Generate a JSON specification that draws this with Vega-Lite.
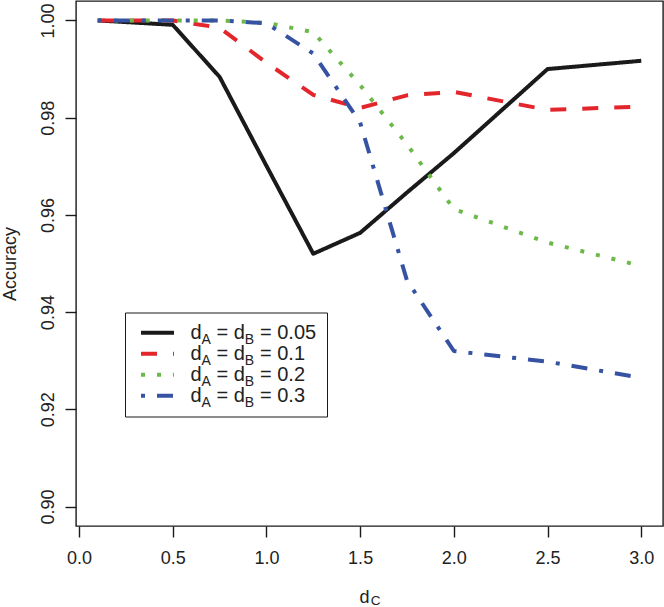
{
  "$schema": "https://vega.github.io/schema/vega-lite/v6.json",
  "width": 587,
  "height": 525,
  "autosize": {"type": "none"},
  "padding": {"left": 76, "top": 1, "right": 1, "bottom": 81},
  "background": "white",
  "config": {
    "font": "Liberation Sans",
    "view": {"stroke": "#1a1a1a", "strokeWidth": 1.4}
  },
  "data": {
    "values": [
      {"series": "dA = dB = 0.05", "dC": 0.1, "accuracy": 1.0},
      {"series": "dA = dB = 0.05", "dC": 0.5, "accuracy": 0.9991},
      {"series": "dA = dB = 0.05", "dC": 0.75, "accuracy": 0.9884},
      {"series": "dA = dB = 0.05", "dC": 1.0, "accuracy": 0.9701},
      {"series": "dA = dB = 0.05", "dC": 1.25, "accuracy": 0.952},
      {"series": "dA = dB = 0.05", "dC": 1.5, "accuracy": 0.9563},
      {"series": "dA = dB = 0.05", "dC": 1.75, "accuracy": 0.9646},
      {"series": "dA = dB = 0.05", "dC": 2.0, "accuracy": 0.9727},
      {"series": "dA = dB = 0.05", "dC": 2.5, "accuracy": 0.99},
      {"series": "dA = dB = 0.05", "dC": 3.0, "accuracy": 0.9917},
      {"series": "dA = dB = 0.1", "dC": 0.1, "accuracy": 1.0},
      {"series": "dA = dB = 0.1", "dC": 0.5, "accuracy": 1.0},
      {"series": "dA = dB = 0.1", "dC": 0.75, "accuracy": 0.9985},
      {"series": "dA = dB = 0.1", "dC": 1.0, "accuracy": 0.9913},
      {"series": "dA = dB = 0.1", "dC": 1.25, "accuracy": 0.9847},
      {"series": "dA = dB = 0.1", "dC": 1.5, "accuracy": 0.982},
      {"series": "dA = dB = 0.1", "dC": 1.75, "accuracy": 0.9846},
      {"series": "dA = dB = 0.1", "dC": 2.0, "accuracy": 0.9853},
      {"series": "dA = dB = 0.1", "dC": 2.5, "accuracy": 0.9816},
      {"series": "dA = dB = 0.1", "dC": 3.0, "accuracy": 0.9823},
      {"series": "dA = dB = 0.2", "dC": 0.1, "accuracy": 1.0},
      {"series": "dA = dB = 0.2", "dC": 0.5, "accuracy": 1.0},
      {"series": "dA = dB = 0.2", "dC": 0.75, "accuracy": 1.0},
      {"series": "dA = dB = 0.2", "dC": 1.0, "accuracy": 0.9995},
      {"series": "dA = dB = 0.2", "dC": 1.25, "accuracy": 0.9976},
      {"series": "dA = dB = 0.2", "dC": 1.5, "accuracy": 0.9867},
      {"series": "dA = dB = 0.2", "dC": 1.75, "accuracy": 0.9745},
      {"series": "dA = dB = 0.2", "dC": 2.0, "accuracy": 0.9612},
      {"series": "dA = dB = 0.2", "dC": 2.5, "accuracy": 0.9543},
      {"series": "dA = dB = 0.2", "dC": 3.0, "accuracy": 0.9495},
      {"series": "dA = dB = 0.3", "dC": 0.1, "accuracy": 1.0},
      {"series": "dA = dB = 0.3", "dC": 0.5, "accuracy": 1.0},
      {"series": "dA = dB = 0.3", "dC": 0.75, "accuracy": 1.0},
      {"series": "dA = dB = 0.3", "dC": 1.0, "accuracy": 0.9994},
      {"series": "dA = dB = 0.3", "dC": 1.25, "accuracy": 0.9932},
      {"series": "dA = dB = 0.3", "dC": 1.5, "accuracy": 0.979},
      {"series": "dA = dB = 0.3", "dC": 1.75, "accuracy": 0.9465},
      {"series": "dA = dB = 0.3", "dC": 2.0, "accuracy": 0.932},
      {"series": "dA = dB = 0.3", "dC": 2.5, "accuracy": 0.9298},
      {"series": "dA = dB = 0.3", "dC": 2.95, "accuracy": 0.9268}
    ]
  },
  "encoding": {
    "y": {
      "field": "accuracy",
      "type": "quantitative",
      "scale": {"domain": [0.896, 1.004], "nice": false, "zero": false},
      "axis": {
        "values": [0.9, 0.92, 0.94, 0.96, 0.98, 1.0],
        "format": ".2f",
        "domain": false,
        "grid": false,
        "tickSize": 11,
        "tickWidth": 1.4,
        "tickColor": "#1a1a1a",
        "labelFontSize": 18,
        "labelColor": "#222222",
        "labelAngle": 270,
        "labelAlign": "center",
        "labelBaseline": "alphabetic",
        "labelPadding": 12,
        "title": "Accuracy",
        "titleFontSize": 18,
        "titleFontWeight": "normal",
        "titleColor": "#222222",
        "titleAngle": 270,
        "titleAlign": "center",
        "titleBaseline": "alphabetic",
        "titleX": -61,
        "titleY": 262.5
      }
    }
  },
  "layer": [
    {
      "transform": [{"filter": {"field": "series", "oneOf": ["dA = dB = 0.05", "dA = dB = 0.1"]}}],
      "mark": {"type": "line", "strokeWidth": 4, "strokeCap": "butt", "strokeJoin": "round"},
      "encoding": {
        "x": {
          "field": "dC",
          "type": "quantitative",
          "scale": {"domain": [-0.016, 3.116], "nice": false, "zero": false},
          "axis": {
            "orient": "bottom",
            "values": [0, 0.5, 1, 1.5, 2, 2.5, 3],
            "format": ".1f",
            "domain": false,
            "grid": false,
            "tickSize": 11,
            "tickWidth": 1.4,
            "tickColor": "#1a1a1a",
            "labelFontSize": 18,
            "labelColor": "#222222",
            "labelBaseline": "alphabetic",
            "labelPadding": 26,
            "labelFlush": false,
            "title": "d",
            "titleFontSize": 18,
            "titleFontWeight": "normal",
            "titleColor": "#222222",
            "titleAlign": "center",
            "titleBaseline": "alphabetic",
            "titleX": 288,
            "titleY": 76
          }
        },
        "color": {
          "field": "series",
          "type": "nominal",
          "scale": {
            "domain": ["dA = dB = 0.05", "dA = dB = 0.1", "dA = dB = 0.2", "dA = dB = 0.3"],
            "range": ["#1a1a1a", "#e3262b", "#6cb94a", "#3652a3"]
          },
          "legend": {
            "orient": "none",
            "legendX": 49,
            "legendY": 311.5,
            "title": null,
            "symbolType": "stroke",
            "symbolSize": 1089,
            "symbolStrokeWidth": 4,
            "clipHeight": 20.3,
            "labelFontSize": 20,
            "labelColor": "#222222",
            "labelOffset": 14.5,
            "labelLimit": 400,
            "labelBaseline": "middle",
            "labelExpr": "replace(replace(datum.label, 'dA ', 'd\u2002\u2005'), 'dB ', 'd\u2002\u2005')",
            "rowPadding": 0,
            "padding": 10,
            "symbolOffset": 4,
            "strokeColor": "#1a1a1a",
            "fillColor": "white"
          }
        },
        "strokeDash": {
          "field": "series",
          "type": "nominal",
          "scale": {
            "domain": ["dA = dB = 0.05", "dA = dB = 0.1", "dA = dB = 0.2", "dA = dB = 0.3"],
            "range": [[1, 0], [16, 16], [4, 12], [4, 12, 16, 12]]
          },
          "legend": {
            "orient": "none",
            "legendX": 49,
            "legendY": 311.5,
            "title": null,
            "symbolType": "stroke",
            "symbolSize": 1089,
            "symbolStrokeWidth": 4,
            "clipHeight": 20.3,
            "labelFontSize": 20,
            "labelColor": "#222222",
            "labelOffset": 14.5,
            "labelLimit": 400,
            "labelBaseline": "middle",
            "labelExpr": "replace(replace(datum.label, 'dA ', 'd\u2002\u2005'), 'dB ', 'd\u2002\u2005')",
            "rowPadding": 0,
            "padding": 10,
            "symbolOffset": 4,
            "strokeColor": "#1a1a1a",
            "fillColor": "white"
          }
        }
      }
    },
    {
      "transform": [{"filter": {"field": "series", "oneOf": ["dA = dB = 0.2", "dA = dB = 0.3"]}}],
      "mark": {"type": "line", "strokeWidth": 4, "strokeCap": "butt", "strokeJoin": "round"},
      "encoding": {
        "x": {
          "field": "dC",
          "type": "quantitative",
          "scale": {"domain": [-0.016, 3.116], "nice": false, "zero": false},
          "axis": {
            "orient": "bottom",
            "domain": false,
            "ticks": false,
            "labels": false,
            "grid": false,
            "title": "C",
            "titleFontSize": 13.5,
            "titleFontWeight": "normal",
            "titleColor": "#222222",
            "titleAlign": "center",
            "titleBaseline": "alphabetic",
            "titleX": 299,
            "titleY": 78.5
          }
        },
        "color": {
          "field": "series",
          "type": "nominal",
          "scale": {
            "domain": ["dA = dB = 0.05", "dA = dB = 0.1", "dA = dB = 0.2", "dA = dB = 0.3"],
            "range": ["#1a1a1a", "#e3262b", "#6cb94a", "#3652a3"]
          },
          "legend": {
            "orient": "none",
            "legendX": 49,
            "legendY": 318.5,
            "title": null,
            "symbolType": "stroke",
            "symbolSize": 1089,
            "symbolStrokeWidth": 4,
            "symbolOpacity": 0,
            "clipHeight": 20.3,
            "labelFontSize": 14,
            "labelColor": "#222222",
            "labelOffset": 25.6,
            "labelLimit": 400,
            "labelBaseline": "middle",
            "labelExpr": "'A\u2003\u2003\u2005\u2006B'",
            "rowPadding": 0,
            "padding": 10,
            "symbolOffset": 4
          }
        },
        "strokeDash": {
          "field": "series",
          "type": "nominal",
          "scale": {
            "domain": ["dA = dB = 0.05", "dA = dB = 0.1", "dA = dB = 0.2", "dA = dB = 0.3"],
            "range": [[1, 0], [16, 16], [4, 12], [4, 12, 16, 12]]
          },
          "legend": {
            "orient": "none",
            "legendX": 49,
            "legendY": 318.5,
            "title": null,
            "symbolType": "stroke",
            "symbolSize": 1089,
            "symbolStrokeWidth": 4,
            "symbolOpacity": 0,
            "clipHeight": 20.3,
            "labelFontSize": 14,
            "labelColor": "#222222",
            "labelOffset": 25.6,
            "labelLimit": 400,
            "labelBaseline": "middle",
            "labelExpr": "'A\u2003\u2003\u2005\u2006B'",
            "rowPadding": 0,
            "padding": 10,
            "symbolOffset": 4
          }
        }
      }
    }
  ],
  "resolve": {
    "scale": {"x": "independent", "color": "independent", "strokeDash": "independent"},
    "axis": {"x": "independent"},
    "legend": {"color": "independent", "strokeDash": "independent"}
  }
}
